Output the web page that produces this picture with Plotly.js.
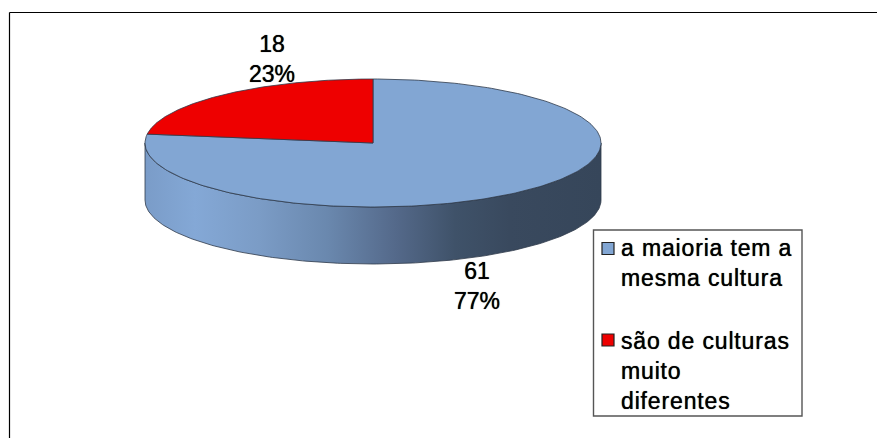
<!DOCTYPE html>
<html>
<head>
<meta charset="utf-8">
<script src="https://cdn.plot.ly/plotly-3.0.1.min.js"></script>
<style>
html,body{margin:0;padding:0;background:#fff}
#chart{width:877px;height:438px}
/* legend captions are set a little wider than the value labels */
.annotation[data-index="2"] text,.annotation[data-index="3"] text{letter-spacing:0.85px}
</style>
</head>
<body>
<div id="chart"></div>
<script>
// Survey answers and their display settings
var categories = ['a maioria tem a<br>mesma cultura', 'são de culturas<br>muito<br>diferentes'];
var counts = [61, 18];
var percentLabels = ['77%', '23%'];
var sliceColors = ['#82A6D3', '#EE0000'];

// Disc geometry on a pixel-scaled plot area
var cx = 373, cy = 143, rx = 228, ry = 64, depth = 57;
var edge = '#2E3A4A';
var fontFamily = 'Liberation Sans, Arial, sans-serif';
var textShadow = '0 0 0.7px #000';

function rim(a) { return [cx + rx * Math.sin(a), cy - ry * Math.cos(a)]; }

function sector(from, to) {
  var xs = [cx], ys = [cy], n = 240;
  for (var i = 0; i <= n; i++) {
    var p = rim(from + (to - from) * i / n);
    xs.push(p[0]); ys.push(p[1]);
  }
  xs.push(cx); ys.push(cy);
  return {x: xs, y: ys};
}

function wall() {
  var xs = [], ys = [], n = 200, i, p;
  for (i = 0; i <= n; i++) { p = rim(Math.PI / 2 + Math.PI * i / n); xs.push(p[0]); ys.push(p[1]); }
  for (i = n; i >= 0; i--) { p = rim(Math.PI / 2 + Math.PI * i / n); xs.push(p[0]); ys.push(p[1] + depth); }
  xs.push(xs[0]); ys.push(ys[0]);
  return {x: xs, y: ys};
}

var total = counts.reduce(function (a, b) { return a + b; }, 0);
var sliceEnd = 2 * Math.PI * counts[0] / total;
var blue = sector(0, sliceEnd);
var red = sector(sliceEnd, 2 * Math.PI);
var side = wall();

function face(shape, color) {
  return {
    x: shape.x, y: shape.y, mode: 'lines', fill: 'toself', fillcolor: color,
    line: {color: edge, width: 0.8}, hoverinfo: 'skip', showlegend: false
  };
}

// Legend swatches are ordinary markers placed inside the boxed key
function swatch(i, y) {
  return {
    x: [608], y: [y], mode: 'markers', hoverinfo: 'skip', showlegend: false,
    marker: {symbol: 'square', size: 12, color: sliceColors[i], line: {color: '#222', width: 1.2}}
  };
}

var wallTrace = {
  x: side.x, y: side.y, mode: 'lines', fill: 'toself',
  fillgradient: {
    type: 'horizontal', start: cx - rx, stop: cx + rx,
    colorscale: [[0, '#7A9CC8'], [0.11, '#84A8D6'], [0.25, '#7B9CC6'], [0.4, '#6A88AE'],
                 [0.55, '#54698A'], [0.68, '#3F5269'], [0.8, '#39495E'], [1, '#36465A']]
  },
  line: {color: edge, width: 0.8}, hoverinfo: 'skip', showlegend: false
};

var traces = [wallTrace, face(blue, sliceColors[0]), face(red, sliceColors[1]), swatch(0, 248.5), swatch(1, 340)];

function valueLabel(i, x, y) {
  return {
    x: x, y: y, xref: 'x', yref: 'y', showarrow: false, xanchor: 'center', yanchor: 'middle',
    text: counts[i] + '<br>' + percentLabels[i],
    font: {family: fontFamily, size: 23, color: '#000', shadow: textShadow}
  };
}

function caption(i, y) {
  return {
    x: 620, y: y, xref: 'x', yref: 'y', showarrow: false, xanchor: 'left', yanchor: 'top', align: 'left',
    text: categories[i], borderpad: 0,
    font: {family: fontFamily, size: 23, color: '#000', shadow: textShadow}
  };
}

var layout = {
  width: 877, height: 438,
  margin: {l: 0, r: 0, t: 0, b: 0},
  paper_bgcolor: '#fff', plot_bgcolor: '#fff',
  showlegend: false,
  xaxis: {range: [0, 877], visible: false, fixedrange: true},
  yaxis: {range: [438, 0], visible: false, fixedrange: true},
  shapes: [
    {type: 'line', xref: 'x', yref: 'y', x0: 9.5, y0: 12.5, x1: 877, y1: 12.5, line: {color: '#000', width: 1.2}},
    {type: 'line', xref: 'x', yref: 'y', x0: 9.5, y0: 12.5, x1: 9.5, y1: 438, line: {color: '#000', width: 1.2}},
    {type: 'rect', xref: 'x', yref: 'y', x0: 593.5, y0: 230, x1: 802, y1: 416, line: {color: '#555', width: 1.4}}
  ],
  annotations: [valueLabel(1, 272, 59), valueLabel(0, 477, 286), caption(0, 234), caption(1, 327)]
};

Plotly.newPlot('chart', traces, layout, {staticPlot: true, displayModeBar: false});
</script>
</body>
</html>
